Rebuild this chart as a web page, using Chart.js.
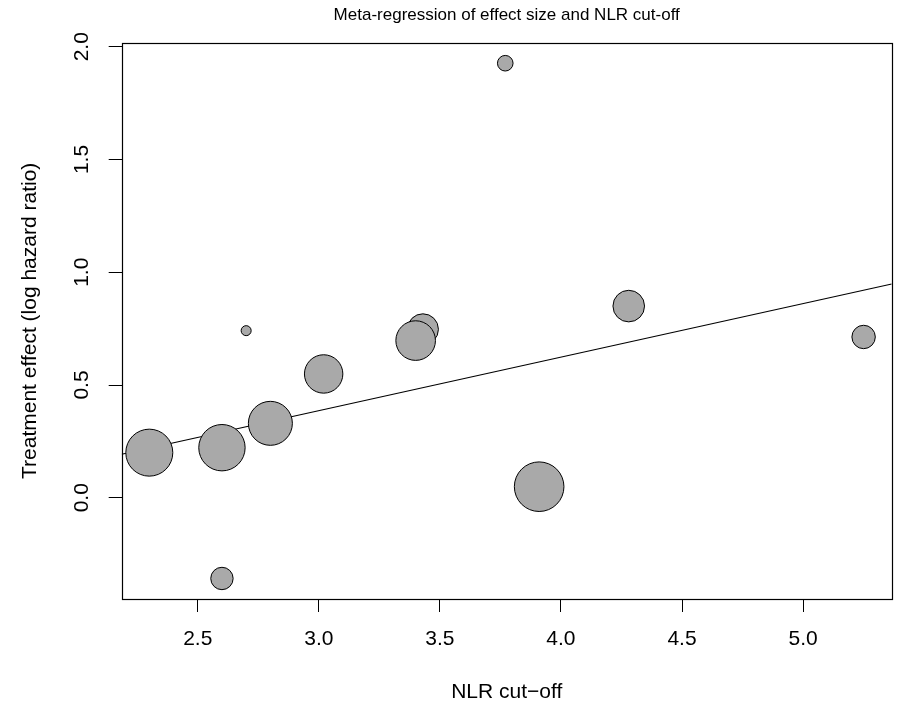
<!DOCTYPE html>
<html><head><meta charset="utf-8">
<script src="https://cdn.jsdelivr.net/npm/chart.js@4.4.1/dist/chart.umd.min.js"></script>
<style>html,body{margin:0;padding:0;background:#fff;}canvas{display:block;}</style>
</head><body>
<canvas id="c" width="899" height="705"></canvas>
<script>
// Study-level data (NLR cut-off vs log hazard ratio), bubble size = study weight (%)
const nlrCutoff   = [2.30, 2.60, 2.60, 2.70, 2.80, 3.02, 3.43, 3.40, 3.77, 3.91, 4.28, 5.25];
const logHR       = [0.200, 0.222, -0.358, 0.741, 0.330, 0.549, 0.747, 0.697, 1.927, 0.049, 0.850, 0.713];
const studyWeight = [11.68, 11.53, 5.69, 2.68, 10.95, 9.59, 7.79, 9.88, 4.04, 12.31, 7.93, 5.94];
// Meta-regression fit
const regIntercept = -0.326;
const regSlope = 0.2374;
// Axes
const xTicks = [2.5, 3.0, 3.5, 4.0, 4.5, 5.0];
const yTicks = [0.0, 0.5, 1.0, 1.5, 2.0];
const xLimits = [2.186, 5.366];
const yLimits = [-0.449, 2.018];

const FONT = "'Liberation Sans', Arial, Helvetica, sans-serif";
const radiusPerWeight = 2.055;

const bubbles = nlrCutoff.map((x, i) => ({x: x, y: logHR[i], r: studyWeight[i] * radiusPerWeight - 0.5}));
const fitLine = xLimits.map(x => ({x: x, y: regIntercept + regSlope * x}));

const boxPlugin = {
  id: 'box',
  afterDatasetsDraw(chart) {
    const {ctx, chartArea: a} = chart;
    ctx.save();
    ctx.strokeStyle = '#000';
    ctx.lineWidth = 1.2;
    const l = Math.round(a.left) + 0.5, t = Math.round(a.top) + 0.5;
    const r = Math.round(a.right) + 0.5, b = Math.round(a.bottom) + 0.5;
    ctx.strokeRect(l, t, r - l, b - t);
    ctx.restore();
  }
};

new Chart(document.getElementById('c'), {
  type: 'bubble',
  data: {
    datasets: [
      {
        type: 'bubble',
        data: bubbles,
        backgroundColor: '#A9A9A9',
        borderColor: '#000',
        borderWidth: 1,
        hoverRadius: 0,
        order: 0
      },
      {
        type: 'line',
        data: fitLine,
        borderColor: '#000',
        borderWidth: 1.2,
        pointRadius: 0,
        fill: false,
        tension: 0,
        order: 1
      }
    ]
  },
  options: {
    responsive: false,
    devicePixelRatio: 1,
    animation: false,
    events: [],
    layout: {autoPadding: false, padding: {left: 0, right: 7.3, top: 0, bottom: 0}},
    plugins: {
      legend: {display: false},
      tooltip: {enabled: false},
      title: {
        display: true,
        fullSize: false,
        text: 'Meta-regression of effect size and NLR cut-off',
        color: '#000',
        font: {family: FONT, size: 17, weight: 'normal'},
        padding: {top: 5.6, bottom: 16.7}
      }
    },
    scales: {
      x: {
        type: 'linear',
        position: 'bottom',
        min: xLimits[0],
        max: xLimits[1],
        bounds: 'data',
        afterBuildTicks: s => { s.ticks = xTicks.map(v => ({value: v})); },
        afterFit: s => { s.height = 106; s.paddingLeft = 0; s.paddingRight = 0; },
        grid: {display: true, drawOnChartArea: false, drawTicks: true, tickLength: 13, color: '#000', lineWidth: 1},
        border: {display: false},
        ticks: {
          font: {family: FONT, size: 21}, color: '#000', padding: 14.6,
          minRotation: 0, maxRotation: 0, autoSkip: false,
          callback: v => Number(v).toFixed(1)
        },
        title: {
          display: true, text: 'NLR cut\u2212off', color: '#000',
          font: {family: FONT, size: 21}, padding: {top: 0, bottom: 0.4}
        }
      },
      y: {
        type: 'linear',
        position: 'left',
        min: yLimits[0],
        max: yLimits[1],
        bounds: 'data',
        afterBuildTicks: s => { s.ticks = yTicks.map(v => ({value: v})); },
        afterFit: s => { s.width = 121.7; s.paddingTop = 0; s.paddingBottom = 0; },
        grid: {display: true, drawOnChartArea: false, drawTicks: true, tickLength: 13, color: '#000', lineWidth: 1},
        border: {display: false},
        ticks: {
          font: {family: FONT, size: 21}, color: '#000', padding: 12.4,
          minRotation: 90, maxRotation: 90, crossAlign: 'center', autoSkip: false,
          callback: v => Number(v).toFixed(1)
        },
        title: {
          display: true, text: 'Treatment effect (log hazard ratio)', color: '#000',
          font: {family: FONT, size: 21}, padding: {top: 17.7, bottom: 0}
        }
      }
    }
  },
  plugins: [boxPlugin]
});
</script>
</body></html>
